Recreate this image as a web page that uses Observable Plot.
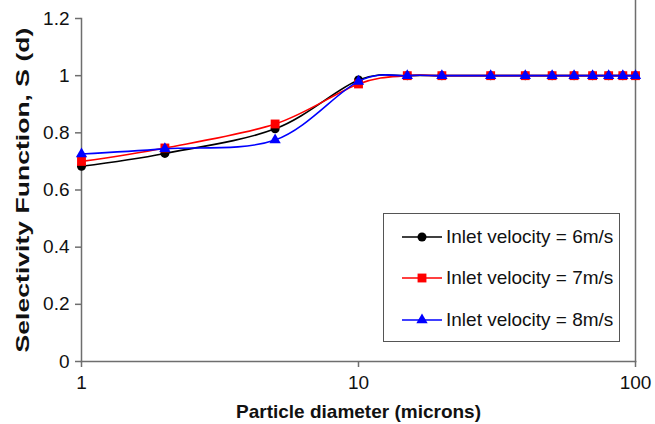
<!DOCTYPE html>
<html><head><meta charset="utf-8">
<script src="https://cdn.jsdelivr.net/npm/d3@7"></script>
<script src="https://cdn.jsdelivr.net/npm/@observablehq/plot@0.6"></script>
<style>
body{margin:0;background:#fff;}
#wrap{position:relative;width:655px;height:424px;font-family:"Liberation Sans",Arial,sans-serif;}
#legend{position:absolute;left:383px;top:213px;width:235px;height:127px;border:1.5px solid #555;background:#fff;}
.row{position:absolute;left:17px;height:30px;display:flex;align-items:center;font-size:19px;color:#111;white-space:nowrap;}
.row svg{margin-right:3px;}
</style></head><body><div id="wrap"></div>
<script>
// Data
const diameters = [1, 2, 5, 10, 15, 20, 30, 40, 50, 60, 70, 80, 90, 100];
const v6 = [0.683, 0.728, 0.814, 0.985, 1, 1, 1, 1, 1, 1, 1, 1, 1, 1];
const v7 = [0.700, 0.747, 0.831, 0.971, 1, 1, 1, 1, 1, 1, 1, 1, 1, 1];
const v8 = [0.726, 0.744, 0.775, 0.980, 1, 1, 1, 1, 1, 1, 1, 1, 1, 1];
const seriesNames = ["Inlet velocity = 6m/s", "Inlet velocity = 7m/s", "Inlet velocity = 8m/s"];
const seriesColors = ["#000000", "#ff0000", "#0000ff"];
const seriesSymbols = ["circle", "square", "triangle"];
const symbolRadius = [4.5, 5, 4.2];
const yTicks = [0, 0.2, 0.4, 0.6, 0.8, 1, 1.2];
const xTicks = [1, 10, 100];
const xTitle = "Particle diameter (microns)";
const yTitle = "Selectivity Function, S (d)";

const series = [v6, v7, v8].map((vals, i) =>
  diameters.map((d, j) => ({d, s: vals[j], name: seriesNames[i]})));

const axisColor = "#6e6e6e";
const marks = [
  Plot.frame({anchor: "right", stroke: axisColor, strokeWidth: 1.5, insetTop: -18}),
  Plot.frame({anchor: "left", stroke: axisColor, strokeWidth: 1.5}),
  Plot.frame({anchor: "bottom", stroke: axisColor, strokeWidth: 1.5}),
  Plot.axisY({ticks: yTicks, tickFormat: d => String(d), tickSize: 6, tickPadding: 6, stroke: axisColor, strokeWidth: 1.5, label: null, fontSize: 19}),
  Plot.axisX({ticks: xTicks, tickFormat: d => String(d), tickSize: 6, tickPadding: 8, stroke: axisColor, strokeWidth: 1.5, label: null, fontSize: 19}),
];
series.forEach((data, i) => {
  marks.push(Plot.line(data, {x: "d", y: "s", stroke: seriesColors[i], strokeWidth: 1.6, curve: "cardinal"}));
  marks.push(Plot.dot(data, {x: "d", y: "s", symbol: seriesSymbols[i], fill: seriesColors[i], stroke: "none", r: symbolRadius[i]}));
});
marks.push(Plot.text([xTitle], {text: d => d, frameAnchor: "bottom", dy: 56, fontSize: 19, fontWeight: "bold", fill: "#111"}));
marks.push(Plot.text([yTitle], {text: d => d, frameAnchor: "left", textAnchor: "middle", rotate: -90, dx: -59, fontSize: 19, fontWeight: "bold", fill: "#111"}));

const chart = Plot.plot({
  width: 655,
  height: 424,
  marginLeft: 81,
  marginRight: 20,
  marginTop: 18,
  marginBottom: 63,
  style: {fontSize: "19px", fontFamily: "'Liberation Sans', Arial, sans-serif", color: "#111", background: "#fff", overflow: "visible"},
  x: {type: "log", domain: [1, 100]},
  y: {domain: [0, 1.2]},
  marks
});
const wrap = document.getElementById("wrap");
wrap.appendChild(chart);

// Stretch the y title along its length as in the reference
d3.select(chart).selectAll("text").filter(function() { return this.textContent === yTitle; })
  .each(function() {
    const len = this.getComputedTextLength();
    const k = len > 0 ? 325 / len : 1;
    const t = this.getAttribute("transform") || "";
    this.setAttribute("transform", t + ` scale(${k},1)`);
  });

// Legend overlay
const legend = document.createElement("div");
legend.id = "legend";
wrap.appendChild(legend);
const rowTops = [8, 49, 91];
seriesNames.forEach((name, i) => {
  const row = document.createElement("div");
  row.className = "row";
  row.style.top = rowTops[i] + "px";
  const svg = d3.create("svg").attr("width", 42).attr("height", 30);
  svg.append("line").attr("x1", 1).attr("x2", 41).attr("y1", 15).attr("y2", 15)
    .attr("stroke", seriesColors[i]).attr("stroke-width", 1.6);
  const sym = seriesSymbols[i] === "circle" ? d3.symbolCircle : seriesSymbols[i] === "square" ? d3.symbolSquare : d3.symbolTriangle;
  svg.append("path").attr("d", d3.symbol(sym, Math.PI * symbolRadius[i] * symbolRadius[i])())
    .attr("transform", "translate(21,15)").attr("fill", seriesColors[i]);
  row.appendChild(svg.node());
  const span = document.createElement("span");
  span.textContent = name;
  row.appendChild(span);
  legend.appendChild(row);
});
</script></body></html>
